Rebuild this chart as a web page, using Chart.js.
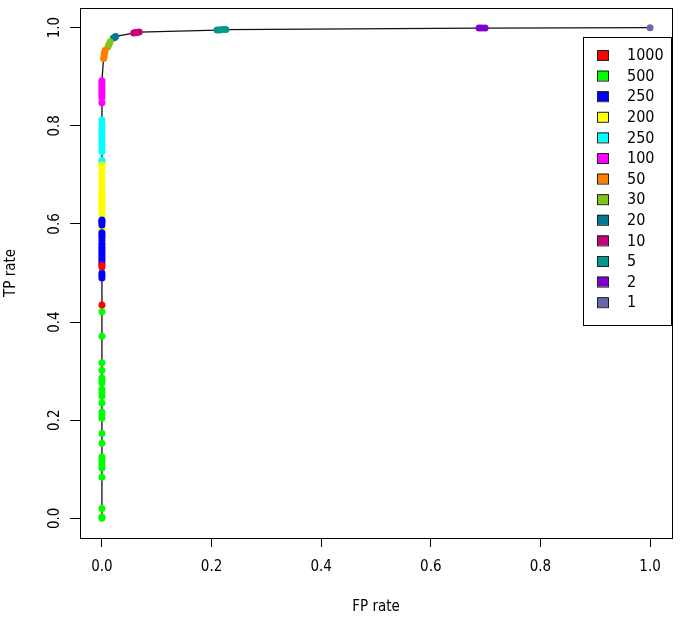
<!DOCTYPE html>
<html>
<head>
<meta charset="utf-8">
<script src="https://cdn.jsdelivr.net/npm/chart.js"></script>
<style>
  html, body { margin: 0; padding: 0; background: #fff; }
  #wrap { width: 685px; height: 622px; }
</style>
</head>
<body>
<div id="wrap"><canvas id="roc" width="685" height="622"></canvas></div>
<script>
// legend labels, in the order the legend shows them
const groups = ['1000', '500', '250', '200', '250', '100', '50', '30', '20', '10', '5', '2', '1'];
const groupColors = ['#ff0000', '#00ff00', '#0000ff', '#ffff00', '#00ffff', '#ff00ff', '#ff7f00',
                     '#80c41a', '#00788f', '#c8007a', '#00998a', '#7f00cc', '#6868b0'];

// FP rate / TP rate of each cutoff, per group
const fp1000 = [0, 0, 0];
const tp1000 = [0.435, 0.512, 0.516];
const fp500 = [0, 0, 0, 0, 0, 0, 0, 0, 0, 0, 0, 0, 0, 0, 0, 0, 0, 0, 0, 0, 0, 0, 0, 0, 0];
const tp500 = [0, 0.003, 0.02, 0.084, 0.102, 0.108, 0.114, 0.12, 0.125, 0.153, 0.173, 0.204,
               0.21, 0.217, 0.235, 0.249, 0.256, 0.263, 0.276, 0.281, 0.286, 0.302, 0.317, 0.371, 0.421];
const fp250a = [0, 0, 0, 0, 0, 0, 0, 0, 0, 0, 0, 0, 0, 0, 0, 0, 0, 0, 0, 0];
const tp250a = [0.49, 0.495, 0.5, 0.52, 0.525, 0.53, 0.535, 0.54, 0.545, 0.55, 0.555, 0.56,
                0.567, 0.574, 0.578, 0.582, 0.598, 0.603, 0.606, 0.608];
const fp200 = [0, 0, 0, 0, 0, 0, 0, 0, 0, 0, 0, 0, 0, 0, 0, 0, 0, 0, 0, 0, 0];
const tp200 = [0.586, 0.59, 0.594, 0.618, 0.624, 0.63, 0.636, 0.642, 0.648, 0.654, 0.66, 0.666,
               0.672, 0.678, 0.684, 0.69, 0.696, 0.702, 0.708, 0.714, 0.72];
const fp250b = [0, 0, 0, 0, 0, 0, 0, 0, 0, 0, 0, 0, 0];
const tp250b = [0.725, 0.73, 0.747, 0.753, 0.759, 0.765, 0.771, 0.777, 0.783, 0.789, 0.796, 0.804, 0.812];
const fp100 = [0, 0, 0, 0, 0, 0, 0, 0, 0];
const tp100 = [0.847, 0.857, 0.862, 0.867, 0.872, 0.877, 0.882, 0.887, 0.892];
const fp50 = [0.003, 0.004, 0.004, 0.005, 0.006];
const tp50 = [0.937, 0.941, 0.945, 0.95, 0.954];
const fp30 = [0.011, 0.013, 0.015];
const tp30 = [0.961, 0.966, 0.971];
const fp20 = [0.021, 0.023, 0.025];
const tp20 = [0.979, 0.98, 0.982];
const fp10 = [0.058, 0.061, 0.064, 0.068];
const tp10 = [0.989, 0.99, 0.99, 0.991];
const fp5 = [0.21, 0.215, 0.22, 0.226];
const tp5 = [0.995, 0.995, 0.996, 0.996];
const fp2 = [0.688, 0.693, 0.699];
const tp2 = [0.999, 0.999, 0.999];
const fp1 = [1];
const tp1 = [1];

const fpByGroup = [fp1000, fp500, fp250a, fp200, fp250b, fp100, fp50, fp30, fp20, fp10, fp5, fp2, fp1];
const tpByGroup = [tp1000, tp500, tp250a, tp200, tp250b, tp100, tp50, tp30, tp20, tp10, tp5, tp2, tp1];
const tickValues = [0, 0.2, 0.4, 0.6, 0.8, 1.0];

const pointSets = groups.map((g, i) => ({
  label: g,
  data: fpByGroup[i].map((x, j) => ({ x: x, y: tpByGroup[i][j] })),
  backgroundColor: groupColors[i],
  borderWidth: 0,
  pointRadius: 3.5,
  showLine: false,
  order: 1
}));

// black curve through all cutoffs
let curve = [];
pointSets.forEach(s => { curve = curve.concat(s.data); });
curve.sort((a, b) => a.y - b.y || a.x - b.x);

const font = "'DejaVu Sans Condensed', 'DejaVu Sans', sans-serif";

const boxAndLegend = {
  id: 'boxAndLegend',
  afterDraw(chart) {
    const ctx = chart.ctx;
    const a = chart.chartArea;
    ctx.save();
    ctx.strokeStyle = '#000';
    ctx.lineWidth = 1;
    ctx.strokeRect(a.left + 0.5, a.top + 0.5, a.right - a.left, a.bottom - a.top);

    // legend box, top right like R's legend("topright")
    const lx = 583, ly = 37, lw = 88, lh = 288, rowH = 20.6;
    ctx.fillStyle = '#fff';
    ctx.fillRect(lx, ly, lw, lh);
    ctx.strokeRect(lx + 0.5, ly + 0.5, lw, lh);
    ctx.font = '16px ' + font;
    ctx.textBaseline = 'middle';
    groups.forEach((g, i) => {
      const cy = ly + 18 + i * rowH;
      ctx.fillStyle = groupColors[i];
      ctx.fillRect(597, cy - 5, 11, 10);
      ctx.strokeStyle = '#222';
      ctx.strokeRect(597.5, cy - 4.5, 11, 10);
      ctx.fillStyle = '#000';
      ctx.fillText(g, 627, cy + 1);
    });
    ctx.restore();
  }
};

new Chart(document.getElementById('roc'), {
  type: 'scatter',
  data: {
    datasets: [{
      label: 'curve',
      data: curve,
      showLine: true,
      borderColor: '#111',
      borderWidth: 1.3,
      pointRadius: 0,
      order: 2
    }].concat(pointSets)
  },
  options: {
    responsive: false,
    animation: false,
    layout: { padding: { top: 8, right: 13, left: 0, bottom: 0 } },
    plugins: { legend: { display: false }, tooltip: { enabled: false } },
    scales: {
      x: {
        min: -0.04, max: 1.04,
        afterFit: s => { s.height = 84; s.paddingLeft = 0; s.paddingRight = 0; },
        afterBuildTicks: s => { s.ticks = tickValues.map(v => ({ value: v })); },
        grid: { drawOnChartArea: false, color: '#000', tickLength: 9 },
        border: { display: false },
        ticks: { color: '#000', font: { family: font, size: 15 }, padding: 11, maxRotation: 0,
                 callback: v => v.toFixed(1) },
        title: { display: true, text: 'FP rate', color: '#000', font: { family: font, size: 15 },
                 padding: { top: 0, bottom: 6 } }
      },
      y: {
        min: -0.04, max: 1.04,
        afterFit: s => { s.width = 80; s.paddingTop = 0; s.paddingBottom = 0; },
        afterBuildTicks: s => { s.ticks = tickValues.map(v => ({ value: v })); },
        grid: { drawOnChartArea: false, color: '#000', tickLength: 10 },
        border: { display: false },
        ticks: { color: '#000', font: { family: font, size: 15 }, padding: 4, minRotation: 90, maxRotation: 90,
                 crossAlign: 'center', callback: v => v.toFixed(1) },
        title: { display: true, text: 'TP rate', color: '#000', font: { family: font, size: 15 },
                 padding: { top: 2, bottom: 0 } }
      }
    }
  },
  plugins: [boxAndLegend]
});
</script>
</body>
</html>
